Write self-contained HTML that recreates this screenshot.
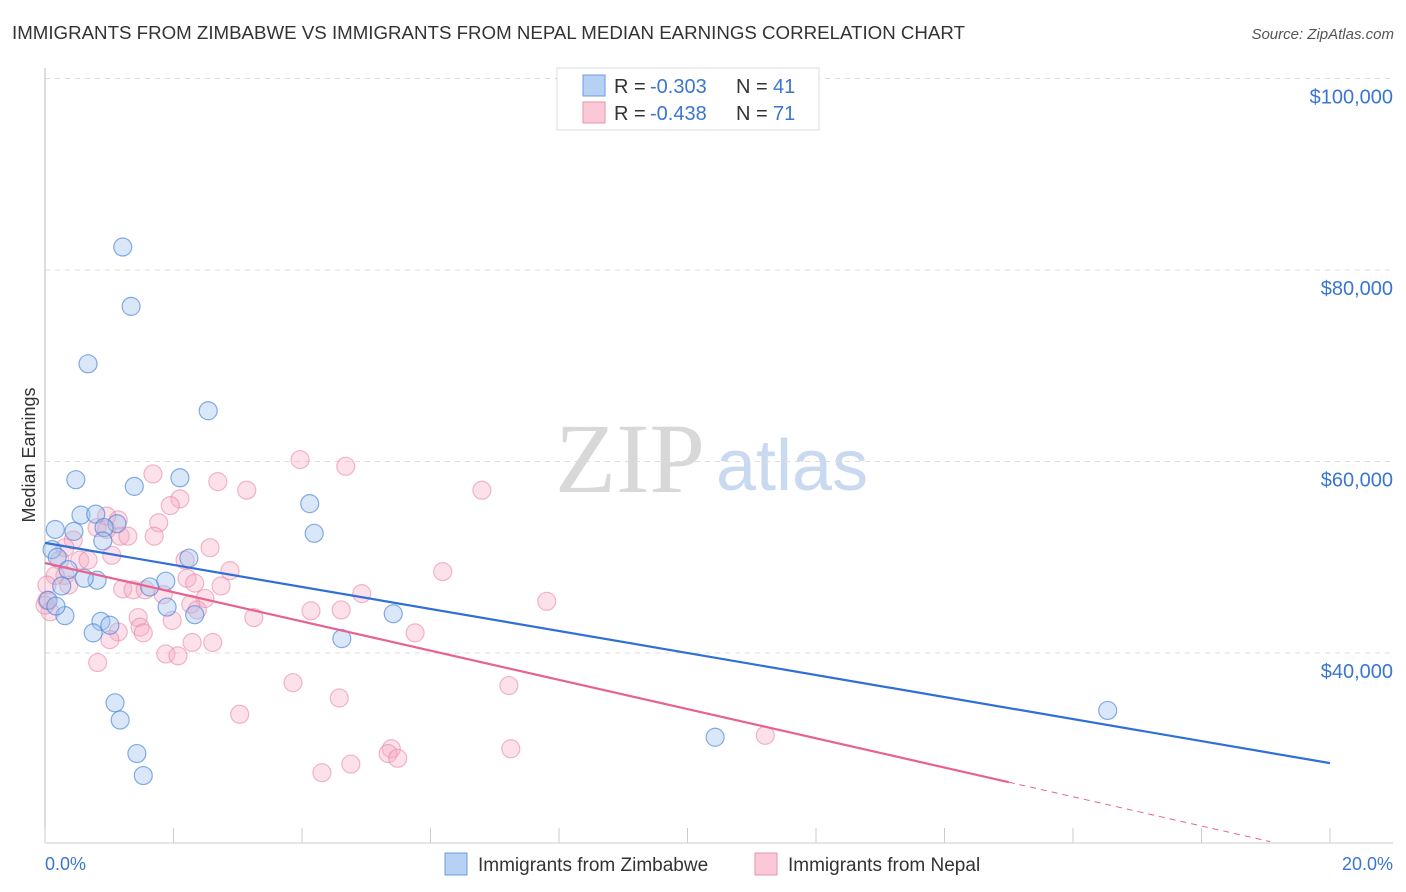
<!DOCTYPE html>
<html><head><meta charset="utf-8"><style>
body{margin:0;background:#fff;font-family:"Liberation Sans",sans-serif}
#wrap{position:relative;width:1406px;height:892px;overflow:hidden}
.t{position:absolute;white-space:nowrap}
</style></head><body>
<div id="wrap">
<svg id="svg" width="1406" height="892" style="position:absolute;left:0;top:0">
<text x="12" y="39" font-size="18" fill="#333" textLength="953" lengthAdjust="spacingAndGlyphs">IMMIGRANTS FROM ZIMBABWE VS IMMIGRANTS FROM NEPAL MEDIAN EARNINGS CORRELATION CHART</text>
<text x="1394" y="39" text-anchor="end" font-size="15" fill="#555" font-style="italic">Source: ZipAtlas.com</text>
<text x="555" y="492" font-family="Liberation Serif,serif" font-size="100" fill="#d8d8d8">ZIP</text>
<text x="716" y="490" font-family="Liberation Sans,sans-serif" font-size="72" fill="#c9d9ef">atlas</text>
<g id="grid"></g><g id="pts"></g><g id="lines"></g>
<text transform="translate(35,455) rotate(-90)" text-anchor="middle" font-size="18" fill="#333">Median Earnings</text>
<text x="45" y="870" font-size="18" fill="#3a76d0">0.0%</text>
<text x="1393" y="870" text-anchor="end" font-size="18" fill="#3a76d0">20.0%</text>
<rect x="445" y="853" width="22" height="22" fill="#b6d1f3" stroke="#6c9be0"/>
<text x="478" y="871" font-size="19" fill="#333">Immigrants from Zimbabwe</text>
<rect x="755" y="853" width="22" height="22" fill="#fac8d6" stroke="#ea93ad"/>
<text x="788" y="871" font-size="19" fill="#333">Immigrants from Nepal</text>
<rect x="557" y="68" width="262" height="62" fill="#fff" stroke="#ddd"/>
<rect x="583" y="75" width="22" height="21" fill="#b6d1f3" stroke="#6c9be0"/>
<rect x="583" y="102" width="22" height="21" fill="#fac8d6" stroke="#ea93ad"/>
<g font-size="20">
<text x="614" y="93" fill="#333">R =</text><text x="650" y="93" fill="#3a76d0">-0.303</text>
<text x="736" y="93" fill="#333">N =</text><text x="773" y="93" fill="#3a76d0">41</text></g>
<g font-size="20">
<text x="614" y="120" fill="#333">R =</text><text x="650" y="120" fill="#3a76d0">-0.438</text>
<text x="736" y="120" fill="#333">N =</text><text x="773" y="120" fill="#3a76d0">71</text></g>
</svg>
</div>
<script>
const yTicks=[40000,60000,80000,100000];
const yTickLabels=["$40,000","$60,000","$80,000","$100,000"];
const blueX=[1.21,1.34,0.67,2.54,0.48,1.39,2.10,4.12,4.19,0.16,0.56,0.79,1.12,0.92,0.45,0.11,0.19,2.24,0.90,1.88,0.81,0.61,0.36,0.26,1.63,1.90,2.33,0.31,0.87,1.01,0.75,4.62,5.42,1.09,1.17,1.43,1.53,10.43,16.54,0.05,0.17];
const blueY=[82.4,76.2,70.2,65.3,58.1,57.4,58.3,55.6,52.5,52.9,54.4,54.5,53.5,53.1,52.7,50.8,50.0,49.9,51.7,47.5,47.6,47.8,48.7,47.0,46.9,44.8,44.0,43.9,43.3,42.9,42.1,41.5,44.1,34.8,33.0,29.5,27.2,31.2,34.0,45.5,44.9];
const pinkX=[0.44,0.31,0.23,0.31,0.16,0.03,0.08,0.03,0.37,0.54,0.67,0.81,0.96,1.17,1.29,1.14,0.96,1.04,1.21,1.37,1.56,1.68,2.10,1.95,1.77,1.70,2.18,2.57,2.21,2.33,1.84,2.49,2.69,3.14,2.88,2.74,2.27,2.37,3.25,1.98,1.45,1.48,1.14,1.53,1.01,1.88,2.07,2.29,2.61,0.82,3.97,4.68,6.80,4.93,4.61,4.14,6.19,7.81,5.76,3.86,3.03,4.58,7.22,4.31,4.76,5.39,5.34,5.49,7.25,11.21,0.0];
const pinkY=[51.8,51.0,49.7,48.1,48.1,45.5,44.3,47.1,47.1,49.7,49.7,53.1,52.9,52.2,52.2,53.9,54.3,50.2,46.7,46.6,46.6,58.7,56.1,55.4,53.6,52.2,49.7,51.0,47.8,47.3,46.1,45.7,57.9,57.0,48.6,47.0,45.1,44.5,43.7,43.4,43.7,42.7,42.2,42.1,41.4,39.9,39.7,41.1,41.1,39.0,60.2,59.5,57.0,46.2,44.5,44.4,48.5,45.4,42.1,36.9,33.6,35.3,36.6,27.5,28.4,30.0,29.5,29.0,30.0,31.4,45.0];
const blueTrend=[51.5,28.5];
const pinkTrend=[49.4,20.3];
const pinkSolidEnd=15.0, pinkDashEnd=19.07;
const NS="http://www.w3.org/2000/svg";
function sx(p){return 45+p*64.25;}
function sy(k){return 1036-k*9.575;}
function mk(tag,attrs,parent){const e=document.createElementNS(NS,tag);for(const a in attrs)e.setAttribute(a,attrs[a]);parent.appendChild(e);return e;}
const grid=document.getElementById('grid');
yTicks.forEach((v,i)=>{const y=sy(v/1000);
 const l=mk('line',{x1:45,x2:1393,y1:y,y2:y,stroke:'#ddd','stroke-dasharray':'5,5'},grid);
 
 
 const t=mk('text',{x:1393,y:y+25,'text-anchor':'end','font-size':20,fill:'#3a76d0'},grid);
 t.textContent=yTickLabels[i];
 
 
});
const ax=mk('line',{x1:45,x2:45,y1:68,y2:843,stroke:'#bbb'},grid);


const bx=mk('line',{x1:45,x2:1393,y1:843,y2:843,stroke:'#ccc'},grid);


for(let i=0;i<=10;i++){const x=sx(i*2);
 const tk=mk('line',{x1:x,x2:x,y1:828,y2:843,stroke:'#ccc'},grid);
 
 }
const pts=document.getElementById('pts');
pinkX.forEach((x,i)=>{const c=mk('circle',{cx:sx(x),cy:sy(pinkY[i]),r:9,fill:'rgba(246,170,194,0.35)',stroke:'rgba(232,128,160,0.55)','stroke-width':1.2},pts);
 
 });
blueX.forEach((x,i)=>{const c=mk('circle',{cx:sx(x),cy:sy(blueY[i]),r:9,fill:'rgba(160,196,240,0.4)',stroke:'rgba(70,130,215,0.65)','stroke-width':1.2},pts);
 
 });
const lines=document.getElementById('lines');
const bl=mk('line',{x1:sx(0),y1:sy(blueTrend[0]),x2:sx(20),y2:sy(blueTrend[1]),stroke:'#2f6fd6','stroke-width':2.2},lines);


const ps=(pinkTrend[1]-pinkTrend[0])/pinkDashEnd;
const pl=mk('line',{x1:sx(0),y1:sy(pinkTrend[0]),x2:sx(pinkSolidEnd),y2:sy(pinkTrend[0]+ps*pinkSolidEnd),stroke:'#e8628f','stroke-width':2.2},lines);


const pd=mk('line',{x1:sx(pinkSolidEnd),y1:sy(pinkTrend[0]+ps*pinkSolidEnd),x2:sx(pinkDashEnd),y2:sy(pinkTrend[1]),stroke:'#e8628f','stroke-width':1,'stroke-dasharray':'6,5'},lines);


</script>
</body></html>
